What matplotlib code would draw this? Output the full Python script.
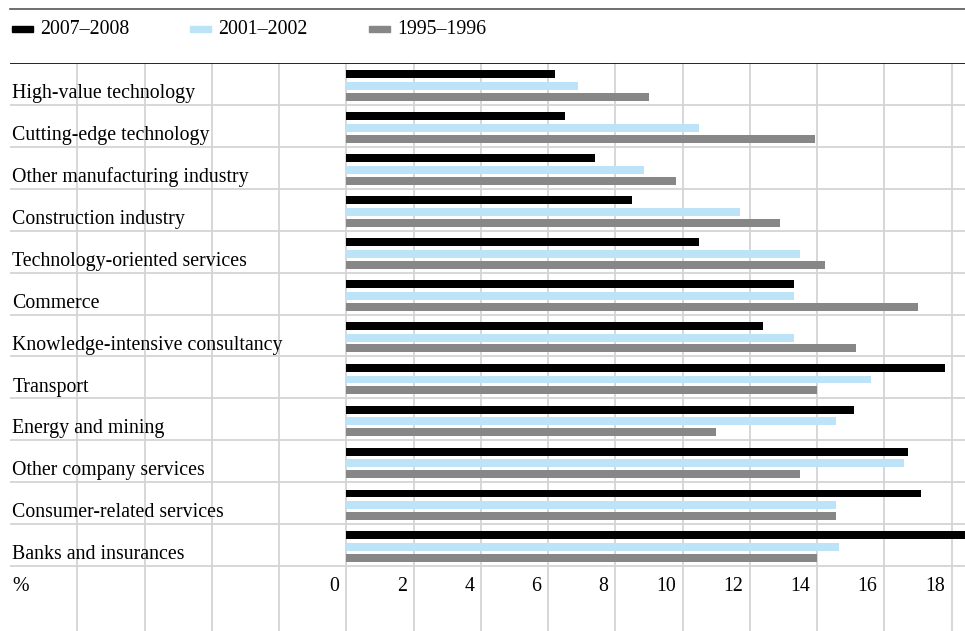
# Imports
import numpy as np
import matplotlib.pyplot as plt

# Data (percent)
categories = ['High-value technology', 'Cutting-edge technology', 'Other manufacturing industry',
              'Construction industry', 'Technology-oriented services', 'Commerce',
              'Knowledge-intensive consultancy', 'Transport', 'Energy and mining',
              'Other company services', 'Consumer-related services', 'Banks and insurances']
v2007 = [6.2, 6.5, 7.4, 8.5, 10.5, 13.3, 12.4, 17.8, 15.1, 16.7, 17.1, 18.7]
v2001 = [6.9, 10.5, 8.85, 11.7, 13.5, 13.3, 13.3, 15.6, 14.55, 16.6, 14.55, 14.65]
v1995 = [9.0, 13.95, 9.8, 12.9, 14.25, 17.0, 15.15, 14.0, 11.0, 13.5, 14.55, 14.0]
series_names = ['2007\u20132008', '2001\u20132002', '1995\u20131996']
ticks = [0, 2, 4, 6, 8, 10, 12, 14, 16, 18]

colors = ['#000000', '#bde3f8', '#878787']
grid_col = '#d4d4d4'
fs = 14.3
plt.rcParams['font.family'] = ['Liberation Serif', 'DejaVu Serif']

fig = plt.figure(figsize=(9.65, 6.31), dpi=100)
ax = fig.add_axes([10/965, 0, 955/965, 1 - 63/631])
ax.set_xlim(-10, 18.4)
ax.set_ylim(13.55, 0)
ax.axis('off')

# grid
for x in range(-8, 20, 2):
	ax.axvline(x, color=grid_col, lw=1.3, zorder=0)
for y in range(1, 13):
	ax.axhline(y, color=grid_col, lw=1.3, zorder=0)
ax.axhline(0, color='black', lw=1.2, zorder=3)

# bars
n = len(categories)
pos = np.arange(n)
offsets = [0.27, 0.55, 0.81]
for vals, off, c in zip([v2007, v2001, v1995], offsets, colors):
	ax.barh(pos + off, vals, height=0.19, left=0, color=c, zorder=2)

# category labels
for i, name in enumerate(categories):
	ax.text(-9.93, i + 0.73, name, fontsize=fs, va='center', ha='left')

# x tick labels inside the bottom band
ax.text(-9.93, 12.48, '%', fontsize=fs, va='center', ha='left')
for t in ticks:
	ax.text(t - 0.2, 12.48, str(t), fontsize=fs, va='center', ha='right')

# top rule and legend
fig.add_artist(plt.Line2D([10/965, 1], [1 - 9/631, 1 - 9/631], color='#555555', lw=1.2))
leg_x = [12, 190, 369]
for lx, name, c in zip(leg_x, series_names, colors):
	fig.add_artist(plt.Rectangle((lx/965, 1 - 32/631), 21/965, 6/631, color=c))
	fig.text((lx + 28)/965, 1 - 30/631, name, fontsize=fs, va='center', ha='left')

plt.savefig('out.png', dpi=100)
